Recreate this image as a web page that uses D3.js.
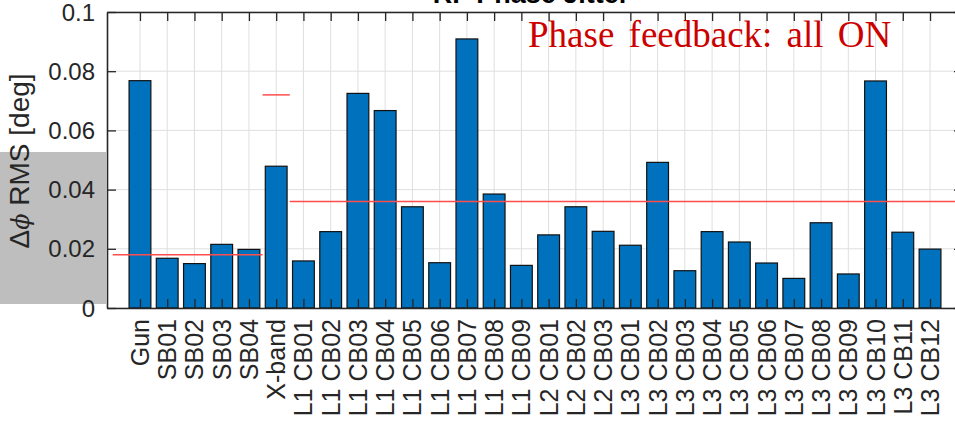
<!DOCTYPE html>
<html>
<head>
<meta charset="utf-8">
<script src="https://cdn.jsdelivr.net/npm/d3@7"></script>
<style>
  body { margin: 0; background: #fff; }
  svg { display: block; }
</style>
</head>
<body>
<svg id="chart" width="955" height="424"></svg>
<script>
// RF phase jitter per station (RMS, degrees)
const categories = [
  "Gun", "SB01", "SB02", "SB03", "SB04", "X-band",
  "L1 CB01", "L1 CB02", "L1 CB03", "L1 CB04", "L1 CB05", "L1 CB06", "L1 CB07", "L1 CB08", "L1 CB09",
  "L2 CB01", "L2 CB02", "L2 CB03",
  "L3 CB01", "L3 CB02", "L3 CB03", "L3 CB04", "L3 CB05", "L3 CB06", "L3 CB07", "L3 CB08", "L3 CB09",
  "L3 CB10", "L3 CB11", "L3 CB12"
];
const jitter = [
  0.0768, 0.0168, 0.0150, 0.0215, 0.0198, 0.0479,
  0.0159, 0.0258, 0.0725, 0.0667, 0.0342, 0.0153, 0.0909, 0.0385, 0.0144,
  0.0247, 0.0342, 0.0259,
  0.0212, 0.0492, 0.0126, 0.0258, 0.0223, 0.0152, 0.0100, 0.0288, 0.0115,
  0.0767, 0.0256, 0.0199
];
const yTicks = [0, 0.02, 0.04, 0.06, 0.08, 0.1];
const yTickLabels = ["0", "0.02", "0.04", "0.06", "0.08", "0.1"];

// Tolerance levels per section, spans given in category slots
const refLevels = [0.018, 0.072, 0.036];
const refStart = [-1, 4.5, 5.5];
const refEnd = [4.5, 5.5, 31];

const titleText = "RF Phase Jitter";
const noteText = "Phase feedback: all ON";

const svg = d3.select("#chart");
const L = 107, R = 963, T = 12, B = 308;
const axisColor = "#262626";
const sans = "'Liberation Sans', Arial, Helvetica, sans-serif";

const x = d3.scalePoint().domain(categories).range([L, R]).padding(1.21);
const step = x.step();
const slot = i => x(categories[0]) + i * step;
const y = d3.scaleLinear().domain([0, 0.1]).range([B, T]);
const barW = step * 0.8;

// grey panel behind the y label
svg.append("rect")
  .attr("x", 0).attr("y", 152).attr("width", 106).attr("height", 152)
  .attr("fill", "#bebebe");

svg.append("defs").append("clipPath").attr("id", "plotClip")
  .append("rect").attr("x", L).attr("y", T).attr("width", R - L).attr("height", B - T);

// grid
const grid = svg.append("g");
grid.selectAll("line.v").data(categories).join("line")
  .attr("x1", d => x(d)).attr("x2", d => x(d))
  .attr("y1", T).attr("y2", B)
  .attr("stroke", "#dfdfdf").attr("stroke-width", 1);
grid.selectAll("line.h").data(yTicks).join("line")
  .attr("x1", L).attr("x2", R)
  .attr("y1", d => y(d)).attr("y2", d => y(d))
  .attr("stroke", "#dfdfdf").attr("stroke-width", 1);

// bars
svg.append("g").selectAll("rect").data(categories).join("rect")
  .attr("x", d => x(d) - barW / 2)
  .attr("width", barW)
  .attr("y", (d, i) => y(jitter[i]))
  .attr("height", (d, i) => y(0) - y(jitter[i]))
  .attr("fill", "#0072bd")
  .attr("stroke", "#111")
  .attr("stroke-width", 1.2);

// tolerance lines
svg.append("g").attr("clip-path", "url(#plotClip)")
  .selectAll("line").data(refLevels).join("line")
  .attr("x1", (d, i) => slot(refStart[i]))
  .attr("x2", (d, i) => slot(refEnd[i]))
  .attr("y1", d => y(d)).attr("y2", d => y(d))
  .attr("stroke", "#ff4d4d").attr("stroke-width", 1.5);

// axes with inward ticks
function styleAxis(g) {
  g.selectAll("path.domain").attr("stroke", axisColor).attr("stroke-width", 1.6);
  g.selectAll(".tick line").attr("stroke", axisColor).attr("stroke-width", 1.3);
}
svg.append("g").attr("transform", `translate(0,${B})`)
  .call(d3.axisBottom(x).tickSize(-9).tickSizeOuter(0).tickFormat(""))
  .call(styleAxis);
svg.append("g").attr("transform", `translate(0,${T})`)
  .call(d3.axisTop(x).tickSize(-9).tickSizeOuter(0).tickFormat(""))
  .call(styleAxis);
svg.append("g").attr("transform", `translate(${L},0)`)
  .call(d3.axisLeft(y).tickValues(yTicks).tickSize(-9).tickSizeOuter(0).tickFormat(""))
  .call(styleAxis);
svg.append("g").attr("transform", `translate(${R},0)`)
  .call(d3.axisRight(y).tickValues(yTicks).tickSize(-9).tickSizeOuter(0).tickFormat(""))
  .call(styleAxis);

// y tick labels
svg.append("g").selectAll("text").data(yTicks).join("text")
  .attr("x", L - 12).attr("y", d => y(d))
  .attr("dy", "0.36em")
  .attr("text-anchor", "end")
  .attr("font-family", sans).attr("font-size", 24)
  .attr("fill", axisColor)
  .text((d, i) => yTickLabels[i]);

// x tick labels, rotated
svg.append("g").selectAll("text").data(categories).join("text")
  .attr("transform", d => `translate(${x(d)},${B + 11}) rotate(-90)`)
  .attr("dy", "0.36em")
  .attr("text-anchor", "end")
  .attr("font-family", sans).attr("font-size", 25)
  .attr("fill", axisColor)
  .text(d => d);

// y axis label
const yl = svg.append("text")
  .attr("transform", `translate(29,161) rotate(-90)`)
  .attr("text-anchor", "middle")
  .attr("font-family", sans).attr("font-size", 28)
  .attr("fill", axisColor);
yl.append("tspan").text("Δ");
yl.append("tspan").attr("font-family", "'DejaVu Serif', serif").attr("font-style", "italic")
  .attr("font-size", 24).text("ϕ");
yl.append("tspan").text(" RMS [deg]");

// title
svg.append("text")
  .attr("x", (L + R) / 2 - 4).attr("y", 3)
  .attr("text-anchor", "middle")
  .attr("font-family", sans).attr("font-size", 27).attr("font-weight", "bold")
  .attr("fill", "#000")
  .text(titleText);

// annotation
svg.append("text")
  .attr("x", 528).attr("y", 47)
  .attr("font-family", "'Liberation Serif', 'Times New Roman', serif")
  .attr("font-size", 37)
  .attr("word-spacing", 5)
  .attr("fill", "#cc0000")
  .text(noteText);
</script>
</body>
</html>
